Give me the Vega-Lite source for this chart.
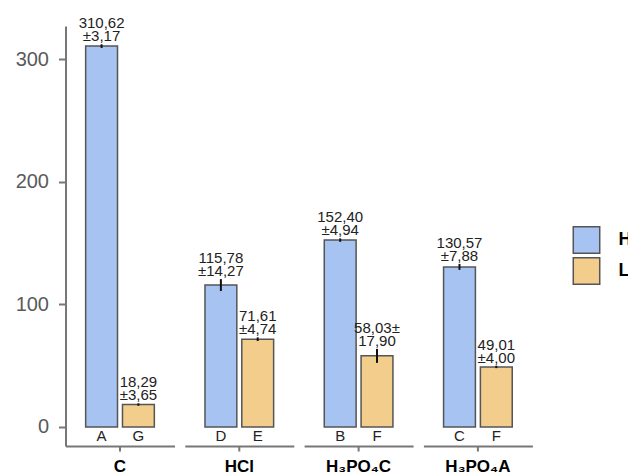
{
  "$schema": "https://vega.github.io/schema/vega-lite/v6.json",
  "padding": {"left": 14.5, "top": 16, "right": 0, "bottom": 0},
  "data": {"values": [
    {"group": "C", "series": "H", "value": 310.62, "errLow": 309.1, "errHigh": 312.1, "label": "310,62|±3,17", "letter": "A"},
    {"group": "C", "series": "L", "value": 18.29, "errLow": 17.3, "errHigh": 19.3, "label": "18,29|±3,65", "letter": "G"},
    {"group": "HCl", "series": "H", "value": 115.78, "errLow": 110.9, "errHigh": 120.6, "label": "115,78|±14,27", "letter": "D"},
    {"group": "HCl", "series": "L", "value": 71.61, "errLow": 70.1, "errHigh": 73.1, "label": "71,61|±4,74", "letter": "E"},
    {"group": "H₃PO₄C", "series": "H", "value": 152.40, "errLow": 151.0, "errHigh": 153.8, "label": "152,40|±4,94", "letter": "B"},
    {"group": "H₃PO₄C", "series": "L", "value": 58.03, "errLow": 52.3, "errHigh": 63.7, "label": "58,03±|17,90", "letter": "F"},
    {"group": "H₃PO₄A", "series": "H", "value": 130.57, "errLow": 128.1, "errHigh": 133.0, "label": "130,57|±7,88", "letter": "C"},
    {"group": "H₃PO₄A", "series": "L", "value": 49.01, "errLow": 48.0, "errHigh": 50.0, "label": "49,01|±4,00", "letter": "F"}
  ]},
  "facet": {
    "column": {
      "field": "group", "type": "nominal",
      "sort": ["C", "HCl", "H₃PO₄C", "H₃PO₄A"],
      "header": {"title": null, "labels": false}
    }
  },
  "spacing": 10.3,
  "resolve": {"scale": {"x": "independent", "xOffset": "independent"}},
  "spec": {
    "width": 109,
    "height": 420,
    "encoding": {
      "x": {
        "field": "group", "type": "nominal", "title": null,
        "scale": {"paddingOuter": 0.24, "paddingInner": 0},
        "axis": {
          "labelFontSize": 17, "labelFontWeight": "bold", "labelColor": "#000",
          "labelAngle": 0, "tickSize": 5, "labelPadding": 7,
          "domainColor": "#777", "domainWidth": 2, "tickColor": "#777", "tickWidth": 2
        }
      },
      "xOffset": {
        "field": "series", "type": "nominal",
        "scale": {"paddingInner": 0.135, "paddingOuter": 0.0675}
      }
    },
    "layer": [
      {
        "mark": {"type": "bar", "stroke": "#555", "strokeWidth": 1.5},
        "encoding": {
          "y": {
            "field": "value", "type": "quantitative", "title": null,
            "scale": {"domain": [-15.5, 327], "nice": false, "zero": false},
            "axis": {
              "values": [0, 100, 200, 300], "grid": false,
              "labelFontSize": 20, "labelColor": "#5a5a5a",
              "tickSize": 7, "labelPadding": 10,
              "domainColor": "#777", "domainWidth": 2, "tickColor": "#777", "tickWidth": 2
            }
          },
          "y2": {"datum": 0},
          "color": {
            "field": "series", "type": "nominal",
            "scale": {"domain": ["H", "L"], "range": ["#a7c3f2", "#f2cd8c"]},
            "legend": {
              "title": null, "orient": "none", "legendX": 507, "legendY": 200,
              "symbolType": "square", "symbolSize": 700,
              "symbolStrokeColor": "#555", "symbolStrokeWidth": 1.5,
              "labelFontSize": 18, "labelFontWeight": "bold", "labelColor": "#000",
              "rowPadding": -11, "labelOffset": 18
            }
          }
        }
      },
      {
        "mark": {"type": "rule", "strokeWidth": 2, "color": "#111"},
        "encoding": {
          "y": {"field": "errLow", "type": "quantitative", "title": null},
          "y2": {"field": "errHigh"}
        }
      },
      {
        "mark": {"type": "text", "fontSize": 15, "lineHeight": 13, "lineBreak": "|", "baseline": "bottom", "dy": -13, "color": "#222"},
        "encoding": {
          "y": {"field": "errHigh", "type": "quantitative", "title": null},
          "text": {"field": "label", "type": "nominal"}
        }
      },
      {
        "mark": {"type": "text", "fontSize": 15, "baseline": "middle", "color": "#222"},
        "encoding": {
          "y": {"datum": -7.4, "type": "quantitative"},
          "text": {"field": "letter", "type": "nominal"}
        }
      }
    ]
  },
  "config": {
    "font": "Liberation Sans",
    "view": {"stroke": null}
  }
}
